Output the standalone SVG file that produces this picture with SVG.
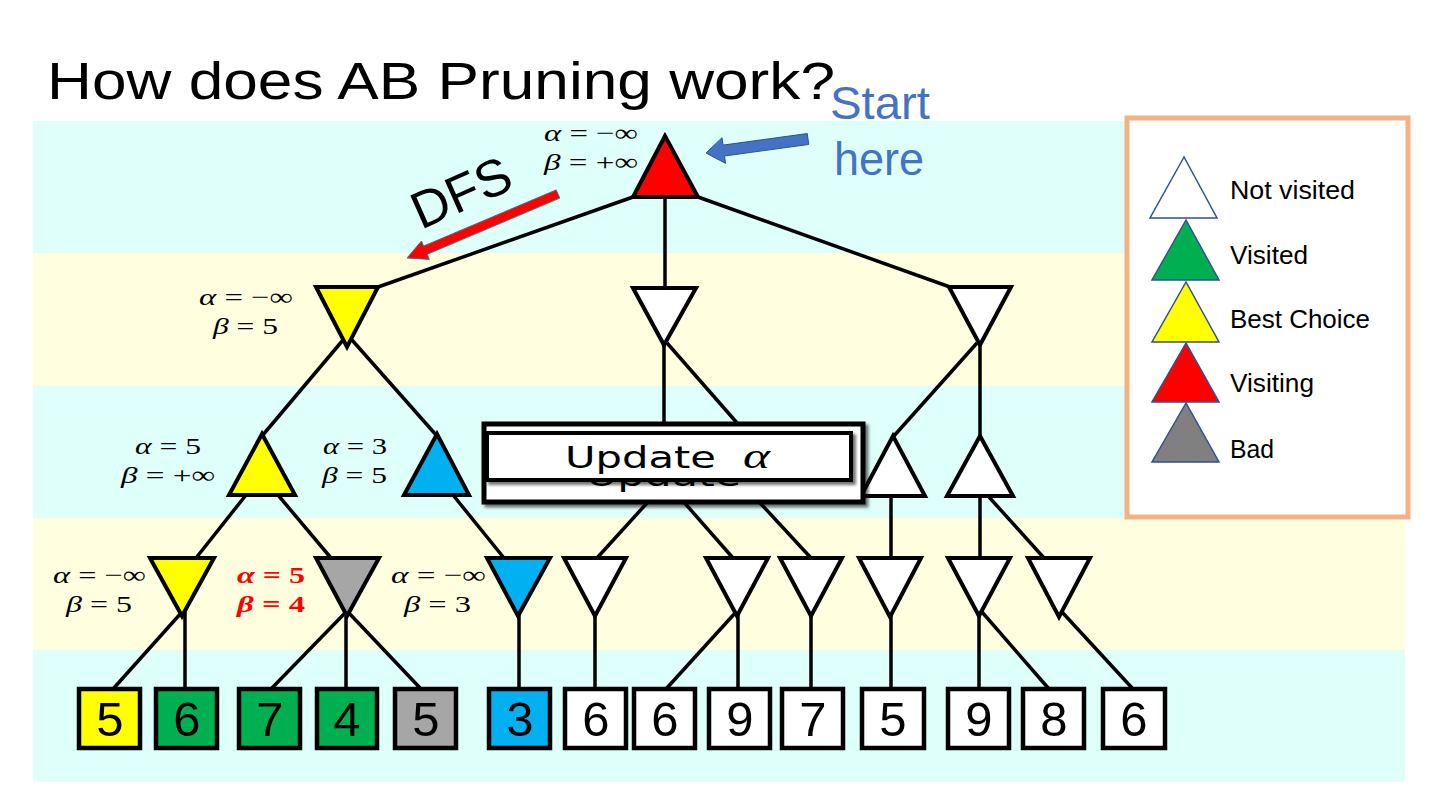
<svg xmlns="http://www.w3.org/2000/svg" width="1440" height="810" viewBox="0 0 1440 810">
<defs>
<style>
.sans{font-family:"Liberation Sans",Arial,sans-serif}
.math{font-family:"Liberation Serif","Times New Roman",serif;font-size:24px;fill:#000}
.it{font-style:italic}
.e{stroke:#000;stroke-width:3.5;fill:none;stroke-linecap:butt}
.t{stroke:#000;stroke-width:4;stroke-linejoin:miter}
.leaf{stroke:#000;stroke-width:4.5}
.num{font-family:"Liberation Sans",Arial,sans-serif;font-size:49px;text-anchor:middle;fill:#000}
.lg{stroke:#2F528F;stroke-width:1.5}
.lgt{font-family:"Liberation Sans",Arial,sans-serif;font-size:25px;fill:#000}
.cy{fill:#DFFFFA}
.yl{fill:#FFFFE0}
.white{fill:#FFFFFF}
.yellow{fill:#FFFF00}
.blue{fill:#00B0F0}
.gray{fill:#A6A6A6}
.green{fill:#00B050}
.red{fill:#FF0000}
</style>
<filter id="sh" x="-10%" y="-20%" width="130%" height="160%">
<feDropShadow dx="3" dy="3" stdDeviation="1.5" flood-color="#000" flood-opacity="0.55"/>
</filter>
</defs>

<rect width="1440" height="810" fill="#FFFFFF"/>
<g id="bands">
<rect class="cy" x="33" y="121" width="1372" height="132"/>
<rect class="yl" x="33" y="253" width="1372" height="133"/>
<rect class="cy" x="33" y="386" width="1372" height="132"/>
<rect class="yl" x="33" y="518" width="1372" height="132"/>
<rect class="cy" x="33" y="650" width="1372" height="132"/>
</g>

<text id="title" class="sans" x="47" y="99" font-size="51" textLength="788" lengthAdjust="spacingAndGlyphs" fill="#000">How does AB Pruning work?</text>

<g id="connectors">
<line class="e" x1="633" y1="197" x2="378" y2="287"/>
<line class="e" x1="665" y1="197" x2="665" y2="288"/>
<line class="e" x1="698" y1="197" x2="950" y2="287"/>
<line class="e" x1="343" y1="340" x2="262" y2="436"/>
<line class="e" x1="352" y1="340" x2="437" y2="436"/>
<line class="e" x1="664" y1="340" x2="664" y2="432"/>
<line class="e" x1="667" y1="343" x2="745" y2="432"/>
<line class="e" x1="977" y1="343" x2="893" y2="437"/>
<line class="e" x1="980" y1="343" x2="980" y2="437"/>
<line class="e" x1="246" y1="495" x2="196" y2="558"/>
<line class="e" x1="278" y1="495" x2="331" y2="558"/>
<line class="e" x1="453" y1="495" x2="504" y2="558"/>
<line class="e" x1="657" y1="492" x2="597" y2="558"/>
<line class="e" x1="675" y1="492" x2="733" y2="558"/>
<line class="e" x1="750" y1="492" x2="811" y2="558"/>
<line class="e" x1="891" y1="496" x2="891" y2="558"/>
<line class="e" x1="980" y1="496" x2="980" y2="558"/>
<line class="e" x1="989" y1="497" x2="1044" y2="558"/>
<line class="e" x1="182" y1="612" x2="113" y2="689"/>
<line class="e" x1="185" y1="612" x2="185" y2="689"/>
<line class="e" x1="346" y1="612" x2="271" y2="689"/>
<line class="e" x1="346" y1="612" x2="346" y2="689"/>
<line class="e" x1="348" y1="612" x2="421" y2="689"/>
<line class="e" x1="519" y1="612" x2="519" y2="689"/>
<line class="e" x1="595" y1="612" x2="595" y2="689"/>
<line class="e" x1="736" y1="612" x2="666" y2="689"/>
<line class="e" x1="738" y1="612" x2="738" y2="689"/>
<line class="e" x1="811" y1="612" x2="811" y2="689"/>
<line class="e" x1="891" y1="612" x2="891" y2="689"/>
<line class="e" x1="979" y1="612" x2="979" y2="689"/>
<line class="e" x1="982" y1="612" x2="1049" y2="689"/>
<line class="e" x1="1062" y1="612" x2="1133" y2="689"/>
</g>

<g id="node-root"><polygon class="t red" points="665,136 633,197 698,197"/>
<text class="math" x="544" y="141" textLength="94" lengthAdjust="spacingAndGlyphs"><tspan class="it">α</tspan> = −∞</text>
<text class="math" x="544" y="170" textLength="94" lengthAdjust="spacingAndGlyphs"><tspan class="it">β</tspan> = +∞</text></g>

<g id="node-A"><polygon class="t yellow" points="316,287 378,287 347,347"/>
<text class="math" x="199" y="305" textLength="94" lengthAdjust="spacingAndGlyphs"><tspan class="it">α</tspan> = −∞</text>
<text class="math" x="213" y="334" textLength="65" lengthAdjust="spacingAndGlyphs"><tspan class="it">β</tspan> = 5</text></g>
<g id="node-B"><polygon class="t white" points="633,288 696,288 664,345"/></g>
<g id="node-C"><polygon class="t white" points="949,287 1011,287 980,345"/></g>

<g id="node-D"><polygon class="t yellow" points="262,434 229,495 295,495"/>
<text class="math" x="135" y="454" textLength="66" lengthAdjust="spacingAndGlyphs"><tspan class="it">α</tspan> = 5</text>
<text class="math" x="121" y="483" textLength="94" lengthAdjust="spacingAndGlyphs"><tspan class="it">β</tspan> = +∞</text></g>
<g id="node-E"><polygon class="t blue" points="437,434 404,495 469,495"/>
<text class="math" x="323" y="454" textLength="64" lengthAdjust="spacingAndGlyphs"><tspan class="it">α</tspan> = 3</text>
<text class="math" x="322" y="483" textLength="65" lengthAdjust="spacingAndGlyphs"><tspan class="it">β</tspan> = 5</text></g>
<g id="node-F"><polygon class="t white" points="664,434 632,492 696,492"/></g>
<g id="node-G"><polygon class="t white" points="745,434 713,492 777,492"/></g>
<g id="node-H"><polygon class="t white" points="893,436 861,496 925,496"/></g>
<g id="node-I"><polygon class="t white" points="980,436 947,496 1013,496"/></g>

<g id="node-J"><polygon class="t yellow" points="150,558 214,558 182,616"/>
<text class="math" x="53" y="583" textLength="93" lengthAdjust="spacingAndGlyphs"><tspan class="it">α</tspan> = −∞</text>
<text class="math" x="66" y="612" textLength="66" lengthAdjust="spacingAndGlyphs"><tspan class="it">β</tspan> = 5</text></g>
<g id="node-K"><polygon class="t gray" points="316,558 379,558 347,616"/>
<text class="math" x="237" y="583" textLength="68" lengthAdjust="spacingAndGlyphs" font-weight="bold" style="fill:#FF0000"><tspan class="it">α</tspan> = 5</text>
<text class="math" x="237" y="612" textLength="68" lengthAdjust="spacingAndGlyphs" font-weight="bold" style="fill:#FF0000"><tspan class="it">β</tspan> = 4</text></g>
<g id="node-L"><polygon class="t blue" points="487,558 550,558 518,616"/>
<text class="math" x="391" y="583" textLength="95" lengthAdjust="spacingAndGlyphs"><tspan class="it">α</tspan> = −∞</text>
<text class="math" x="404" y="612" textLength="67" lengthAdjust="spacingAndGlyphs"><tspan class="it">β</tspan> = 3</text></g>
<g id="node-M"><polygon class="t white" points="564,558 626,558 595,616"/></g>
<g id="node-N"><polygon class="t white" points="706,558 768,558 737,616"/></g>
<g id="node-O"><polygon class="t white" points="780,558 842,558 811,616"/></g>
<g id="node-P"><polygon class="t white" points="859,558 921,558 890,617"/></g>
<g id="node-Q"><polygon class="t white" points="948,558 1010,558 979,616"/></g>
<g id="node-R"><polygon class="t white" points="1028,558 1090,558 1059,617"/></g>

<g id="leaf-1"><rect class="leaf yellow" x="79" y="689" width="61" height="59"/><text class="num" x="110" y="736">5</text></g>
<g id="leaf-2"><rect class="leaf green" x="156" y="689" width="61" height="59"/><text class="num" x="187" y="736">6</text></g>
<g id="leaf-3"><rect class="leaf green" x="239" y="689" width="61" height="59"/><text class="num" x="270" y="736">7</text></g>
<g id="leaf-4"><rect class="leaf green" x="317" y="689" width="60" height="59"/><text class="num" x="347" y="736">4</text></g>
<g id="leaf-5"><rect class="leaf gray" x="395" y="689" width="61" height="59"/><text class="num" x="426" y="736">5</text></g>
<g id="leaf-6"><rect class="leaf blue" x="489" y="689" width="61" height="59"/><text class="num" x="520" y="736">3</text></g>
<g id="leaf-7"><rect class="leaf white" x="565" y="689" width="61" height="59"/><text class="num" x="596" y="736">6</text></g>
<g id="leaf-8"><rect class="leaf white" x="634" y="689" width="61" height="59"/><text class="num" x="665" y="736">6</text></g>
<g id="leaf-9"><rect class="leaf white" x="709" y="689" width="61" height="59"/><text class="num" x="740" y="736">9</text></g>
<g id="leaf-10"><rect class="leaf white" x="782" y="689" width="61" height="59"/><text class="num" x="813" y="736">7</text></g>
<g id="leaf-11"><rect class="leaf white" x="862" y="689" width="62" height="59"/><text class="num" x="893" y="736">5</text></g>
<g id="leaf-12"><rect class="leaf white" x="948" y="689" width="61" height="59"/><text class="num" x="979" y="736">9</text></g>
<g id="leaf-13"><rect class="leaf white" x="1023" y="689" width="61" height="59"/><text class="num" x="1054" y="736">8</text></g>
<g id="leaf-14"><rect class="leaf white" x="1103" y="689" width="62" height="59"/><text class="num" x="1134" y="736">6</text></g>

<g id="dfs-arrow">
<polygon points="556.2,189.9 423.6,246.1 421.5,241.0 407,258 429.3,259.4 427.2,254.3 559.8,198.1" fill="#FF0000" stroke="#41719C" stroke-width="1"/>
<text class="sans" transform="translate(421,230) rotate(-24)" font-size="52" textLength="104" lengthAdjust="spacingAndGlyphs" fill="#000">DFS</text>
</g>

<g id="start-arrow">
<polygon points="807.25,133.55 723.05,145.1 722.0,137.7 706,153 725.6,163.4 724.55,156.0 808.75,144.45" fill="#4472C4" stroke="#2F528F" stroke-width="1"/>
<text class="sans" x="830" y="119" font-size="46" textLength="100" lengthAdjust="spacingAndGlyphs" fill="#4472C4">Start</text>
<text class="sans" x="834" y="175" font-size="46" textLength="90" lengthAdjust="spacingAndGlyphs" fill="#4472C4">here</text>
</g>

<g id="update-box">
<rect x="484" y="424" width="379" height="78" fill="#FFFFFF" stroke="#000" stroke-width="5" filter="url(#sh)"/>
<text x="586" y="486" font-family="DejaVu Sans, sans-serif" font-size="31" textLength="155" lengthAdjust="spacingAndGlyphs" fill="#000">Update</text>
<rect x="487" y="433" width="364" height="47" fill="#FFFFFF" stroke="#000" stroke-width="4" filter="url(#sh)"/>
<text x="565" y="468" font-family="DejaVu Sans, sans-serif" font-size="31" textLength="151" lengthAdjust="spacingAndGlyphs" fill="#000">Update</text>
<text x="743" y="468" font-family="Liberation Serif, serif" font-style="italic" font-size="36" textLength="27" lengthAdjust="spacingAndGlyphs" fill="#000">α</text>
</g>

<g id="legend">
<rect x="1127" y="118" width="281" height="399" fill="#FFFFFF" stroke="#F4B183" stroke-width="5"/>
<polygon class="lg white" points="1184,157 1150,218 1217,218"/>
<polygon class="lg green" points="1186,220 1152,280 1219,280"/>
<polygon class="lg yellow" points="1186,282 1152,342 1219,342"/>
<polygon class="lg red" points="1186,343 1152,402 1219,402"/>
<polygon class="lg" fill="#808080" points="1186,403 1152,462 1219,462"/>
<text class="lgt" x="1230" y="199" textLength="125" lengthAdjust="spacingAndGlyphs">Not visited</text>
<text class="lgt" x="1230" y="264" textLength="78" lengthAdjust="spacingAndGlyphs">Visited</text>
<text class="lgt" x="1230" y="328" textLength="140" lengthAdjust="spacingAndGlyphs">Best Choice</text>
<text class="lgt" x="1230" y="392" textLength="84" lengthAdjust="spacingAndGlyphs">Visiting</text>
<text class="lgt" x="1230" y="458" textLength="44" lengthAdjust="spacingAndGlyphs">Bad</text>
</g>
</svg>
